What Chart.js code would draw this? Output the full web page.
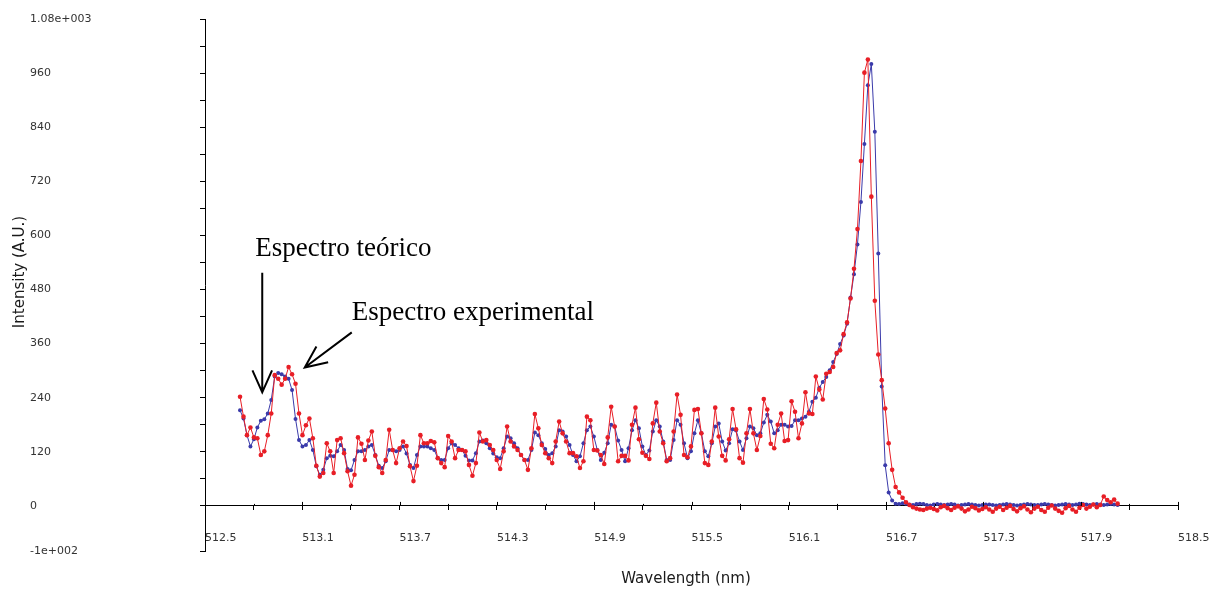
<!DOCTYPE html>
<html>
<head>
<meta charset="utf-8">
<script src="https://cdn.jsdelivr.net/npm/chart.js@4.4.1/dist/chart.umd.min.js"></script>
<style>
  body { margin: 0; background: #fff; }
</style>
</head>
<body>
<canvas id="spectrum" width="1227" height="592"></canvas>
<script>
// wavelength grid of the spectrometer (nm)
const wlStart = 512.716;
const wlStep = 0.02139;

// Espectro experimental (red)
const experimental = [
  242,198,157,174,152,150,113,121,157,205,290,282,269,282,308,292,271,205,157,179,194,150,89,65,73,139,121,73,146,150,117,
  77,45,69,152,138,102,145,165,111,86,73,102,169,124,95,128,143,133,88,55,89,157,139,139,144,141,106,95,86,155,143,106,124,
  124,121,91,67,95,163,143,146,135,124,102,82,121,176,143,132,124,113,102,80,128,204,172,135,117,106,95,143,187,161,143,117,117,110,
  84,99,198,190,124,123,113,93,152,220,176,99,111,111,101,180,218,148,118,111,104,183,229,165,139,99,106,165,247,202,113,108,132,213,
  215,161,95,91,143,218,154,111,101,148,215,170,106,96,161,215,161,124,155,237,214,138,128,180,205,144,146,232,209,150,183,252,205,
  204,287,258,236,293,297,308,339,345,381,407,460,526,614,765,961,990,686,455,336,279,216,139,80,42,30,18,
  8,2,-3,-6,-8,-9,-6,-4,-7,-10,-3,0,-5,-9,-4,-1,-6,-12,-8,-2,-5,-10,-7,-3,-8,-13,-6,-2,-9,-4,
  0,-7,-12,-5,-1,-8,-14,-6,-2,-9,-13,-4,1,-6,-11,-15,-5,0,-8,-13,-4,2,-6,-2,3,-3,2,21,13,8,14,5
];

// Espectro teórico (blue)
const theoretical = [
  212,194,157,132,148,174,189,192,205,235,287,295,292,287,282,257,193,146,132,135,146,124,88,69,80,106,111,110,121,135,124,
  82,79,102,121,121,124,132,135,113,89,84,99,124,124,121,124,132,116,91,84,113,132,132,132,128,124,106,102,102,128,139,135,128,
  124,111,101,101,117,143,145,139,128,116,108,106,128,154,150,139,128,113,102,102,124,163,157,139,126,113,117,132,168,165,154,135,113,99,
  110,139,168,176,154,124,102,118,139,180,176,145,124,99,128,168,190,172,132,113,123,165,190,176,143,102,102,146,190,180,139,106,121,161,
  190,161,121,110,139,176,183,143,123,139,170,167,143,124,150,176,172,157,161,185,202,187,161,168,180,180,176,177,190,190,194,198,209,
  231,240,262,275,286,301,319,337,359,378,404,462,514,580,674,803,933,980,830,560,265,90,30,12,5,
  4,6,5,3,2,4,5,4,2,1,3,4,3,2,3,4,3,1,2,3,4,3,2,1,2,3,3,2,1,2,3,4,
  3,2,1,2,3,4,3,2,2,3,4,3,2,1,2,3,4,3,2,3,5,4,3,2,3,4,3,2,3,4,3,2
];

const wavelengths = experimental.map((_, i) => +(wlStart + i * wlStep).toFixed(4));

const xTickValues = [512.5, 513.1, 513.7, 514.3, 514.9, 515.5, 516.1, 516.7, 517.3, 517.9, 518.5];
const xTickLabels = ['512.5', '513.1', '513.7', '514.3', '514.9', '515.5', '516.1', '516.7', '517.3', '517.9', '518.5'];
const yTickValues = [-100, 0, 120, 240, 360, 480, 600, 720, 840, 960, 1080];
const yTickLabels = ['-1e+002', '0', '120', '240', '360', '480', '600', '720', '840', '960', '1.08e+003'];

function withMinor(values) {
  const out = [];
  values.forEach((v, i) => {
    out.push({ value: v });
    const next = values[i + 1];
    if (next !== undefined && v >= 0) out.push({ value: (v + next) / 2 });
  });
  return out;
}

const annotations = {
  id: 'annotations',
  afterDraw(chart) {
    const { ctx, scales: { x, y } } = chart;
    ctx.save();

    // x tick marks also poke above the axis line
    const y0 = y.getPixelForValue(0);
    ctx.strokeStyle = '#000';
    ctx.lineWidth = 1;
    ctx.beginPath();
    x.ticks.forEach(t => {
      const px = Math.round(x.getPixelForValue(t.value)) + 0.5;
      const major = xTickValues.indexOf(t.value) >= 0;
      ctx.moveTo(px, y0 - (major ? 4 : 2));
      ctx.lineTo(px, y0);
    });
    ctx.stroke();

    ctx.fillStyle = '#1a1a1a';
    ctx.font = '15px "DejaVu Sans"';
    ctx.textAlign = 'center';
    ctx.textBaseline = 'middle';
    ctx.fillText('Wavelength (nm)', 686, 579);
    ctx.save();
    ctx.translate(20, 272);
    ctx.rotate(-Math.PI / 2);
    ctx.fillText('Intensity (A.U.)', 0, 0);
    ctx.restore();

    ctx.fillStyle = '#000';
    ctx.font = '27px "Liberation Serif"';
    ctx.textAlign = 'left';
    ctx.textBaseline = 'alphabetic';
    ctx.fillText('Espectro teórico', x.getPixelForValue(512.81), y.getPixelForValue(555));
    ctx.fillText('Espectro experimental', x.getPixelForValue(513.405), y.getPixelForValue(413));

    const arrow = (x0, v0, x1, v1) => {
      const ax = x.getPixelForValue(x0), ay = y.getPixelForValue(v0);
      const bx = x.getPixelForValue(x1), by = y.getPixelForValue(v1);
      const ang = Math.atan2(by - ay, bx - ax);
      ctx.strokeStyle = '#000';
      ctx.lineWidth = 2;
      ctx.beginPath();
      ctx.moveTo(ax, ay);
      ctx.lineTo(bx, by);
      ctx.moveTo(bx - 24 * Math.cos(ang - 0.42), by - 24 * Math.sin(ang - 0.42));
      ctx.lineTo(bx, by);
      ctx.lineTo(bx - 24 * Math.cos(ang + 0.42), by - 24 * Math.sin(ang + 0.42));
      ctx.stroke();
    };
    arrow(512.853, 517, 512.853, 252);
    arrow(513.405, 385, 513.115, 307);
    ctx.restore();
  }
};

new Chart(document.getElementById('spectrum'), {
  type: 'line',
  data: {
    labels: wavelengths,
    datasets: [
      {
        label: 'Espectro experimental',
        data: experimental,
        borderColor: 'rgb(232, 30, 38)',
        backgroundColor: 'rgb(232, 30, 38)',
        borderWidth: 1,
        pointRadius: 2.3,
        pointBorderWidth: 0,
        tension: 0
      },
      {
        label: 'Espectro teórico',
        data: theoretical,
        borderColor: 'rgb(58, 58, 170)',
        backgroundColor: 'rgb(58, 58, 170)',
        borderWidth: 1,
        pointRadius: 2,
        pointBorderWidth: 0,
        tension: 0
      }
    ]
  },
  options: {
    responsive: false,
    animation: false,
    layout: { padding: { left: 30, right: 49, top: 19, bottom: 41 } },
    plugins: { legend: { display: false }, tooltip: { enabled: false } },
    scales: {
      x: {
        type: 'linear',
        position: { y: 0 },
        min: 512.5,
        max: 518.5,
        afterBuildTicks: scale => { scale.ticks = withMinor(xTickValues); },
        afterFit: scale => { scale.paddingLeft = 0; scale.paddingRight = 0; },
        border: { display: true, color: '#000', width: 1 },
        grid: { drawOnChartArea: false, color: '#000', tickLength: 4 },
        ticks: {
          align: 'start',
          autoSkip: false,
          maxRotation: 0,
          padding: 22,
          color: '#333',
          font: { family: 'DejaVu Sans', size: 11 },
          callback: value => {
            const k = xTickValues.indexOf(value);
            return k >= 0 ? xTickLabels[k] : '';
          }
        }
      },
      y: {
        min: -100,
        max: 1080,
        afterBuildTicks: scale => { scale.ticks = withMinor(yTickValues); },
        afterFit: scale => { scale.width = 175; },
        border: { display: true, color: '#000', width: 1 },
        grid: { drawOnChartArea: false, color: '#000', tickLength: 5 },
        ticks: {
          crossAlign: 'far',
          autoSkip: false,
          color: '#333',
          font: { family: 'DejaVu Sans', size: 11 },
          callback: value => {
            const k = yTickValues.indexOf(value);
            return k >= 0 ? yTickLabels[k] : '';
          }
        }
      }
    }
  },
  plugins: [annotations]
});
</script>
</body>
</html>
